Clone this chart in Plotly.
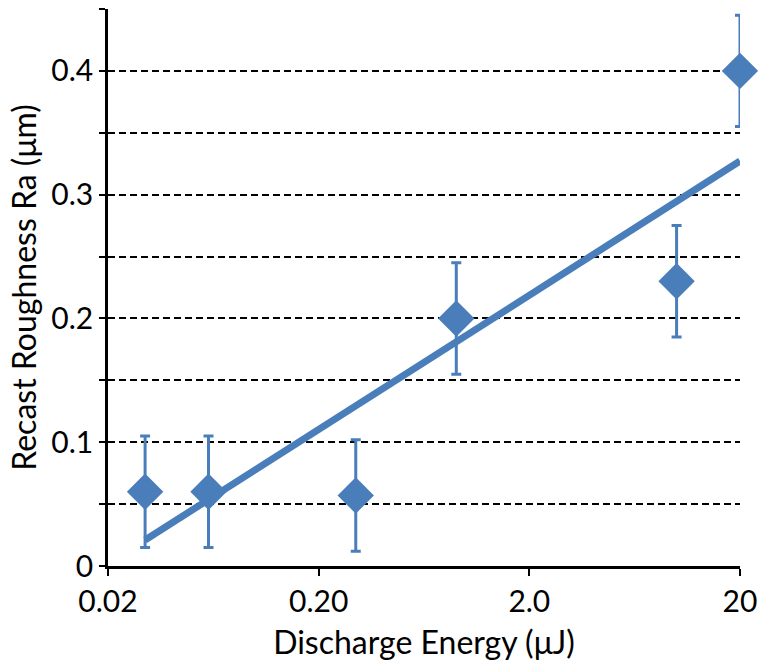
import numpy as np
import plotly.graph_objects as go

# Discharge energy (uJ) and recast-layer roughness Ra (um)
energy = [0.03, 0.06, 0.3, 0.9, 10, 20]
roughness = [0.06, 0.06, 0.057, 0.2, 0.23, 0.4]
roughness_err = [0.045, 0.045, 0.045, 0.045, 0.045, 0.045]

x_tickvals = [0.02, 0.2, 2, 20]
x_ticktext = ["0.02", "0.20", "2.0", "20"]
y_tickvals = [0, 0.05, 0.1, 0.15, 0.2, 0.25, 0.3, 0.35, 0.4, 0.45]
y_ticktext = ["0", "", "0.1", "", "0.2", "", "0.3", "", "0.4", ""]

blue = "#4A7EBB"
font_family = "Lato, 'Open Sans', sans-serif"

# Logarithmic trendline fitted to the measurements
slope, intercept = np.polyfit(np.log(energy), roughness, 1)
fit_x = np.array([min(energy), max(energy)])
fit_y = slope * np.log(fit_x) + intercept

fig = go.Figure()

fig.add_trace(go.Scatter(
    x=energy, y=roughness,
    mode="markers",
    marker=dict(symbol="diamond", size=28, color=blue),
    error_y=dict(type="data", array=roughness_err, color=blue,
                 thickness=3, width=5),
    cliponaxis=False,
    showlegend=False,
))

fig.add_trace(go.Scatter(
    x=fit_x, y=fit_y,
    mode="lines",
    line=dict(color=blue, width=7),
    showlegend=False,
))

fig.update_layout(
    width=758, height=664,
    margin=dict(l=108, r=18, t=9, b=98, autoexpand=False),
    paper_bgcolor="white",
    plot_bgcolor="white",
    font=dict(family=font_family, color="black", size=30),
)

fig.update_xaxes(
    type="log",
    range=[np.log10(0.02), np.log10(20)],
    tickvals=x_tickvals, ticktext=x_ticktext,
    ticks="outside", ticklen=7, tickwidth=2, tickcolor="black",
    showline=True, linecolor="black", linewidth=2.5,
    showgrid=False, zeroline=False,
    tickfont=dict(size=30),
    automargin=False,
    title=dict(text="Discharge Energy (μJ)", font=dict(size=32), standoff=15),
)

fig.update_yaxes(
    range=[0, 0.45],
    tickvals=y_tickvals, ticktext=y_ticktext,
    ticks="outside", ticklen=6, tickwidth=2, tickcolor="black",
    showline=True, linecolor="black", linewidth=2.5,
    showgrid=True, gridcolor="black", gridwidth=2, griddash="7px,4px",
    zeroline=False,
    tickfont=dict(size=30),
    automargin=False,
    title=dict(text="Recast Roughness Ra (μm)", font=dict(size=32), standoff=6),
)

fig.write_html("out.html")
